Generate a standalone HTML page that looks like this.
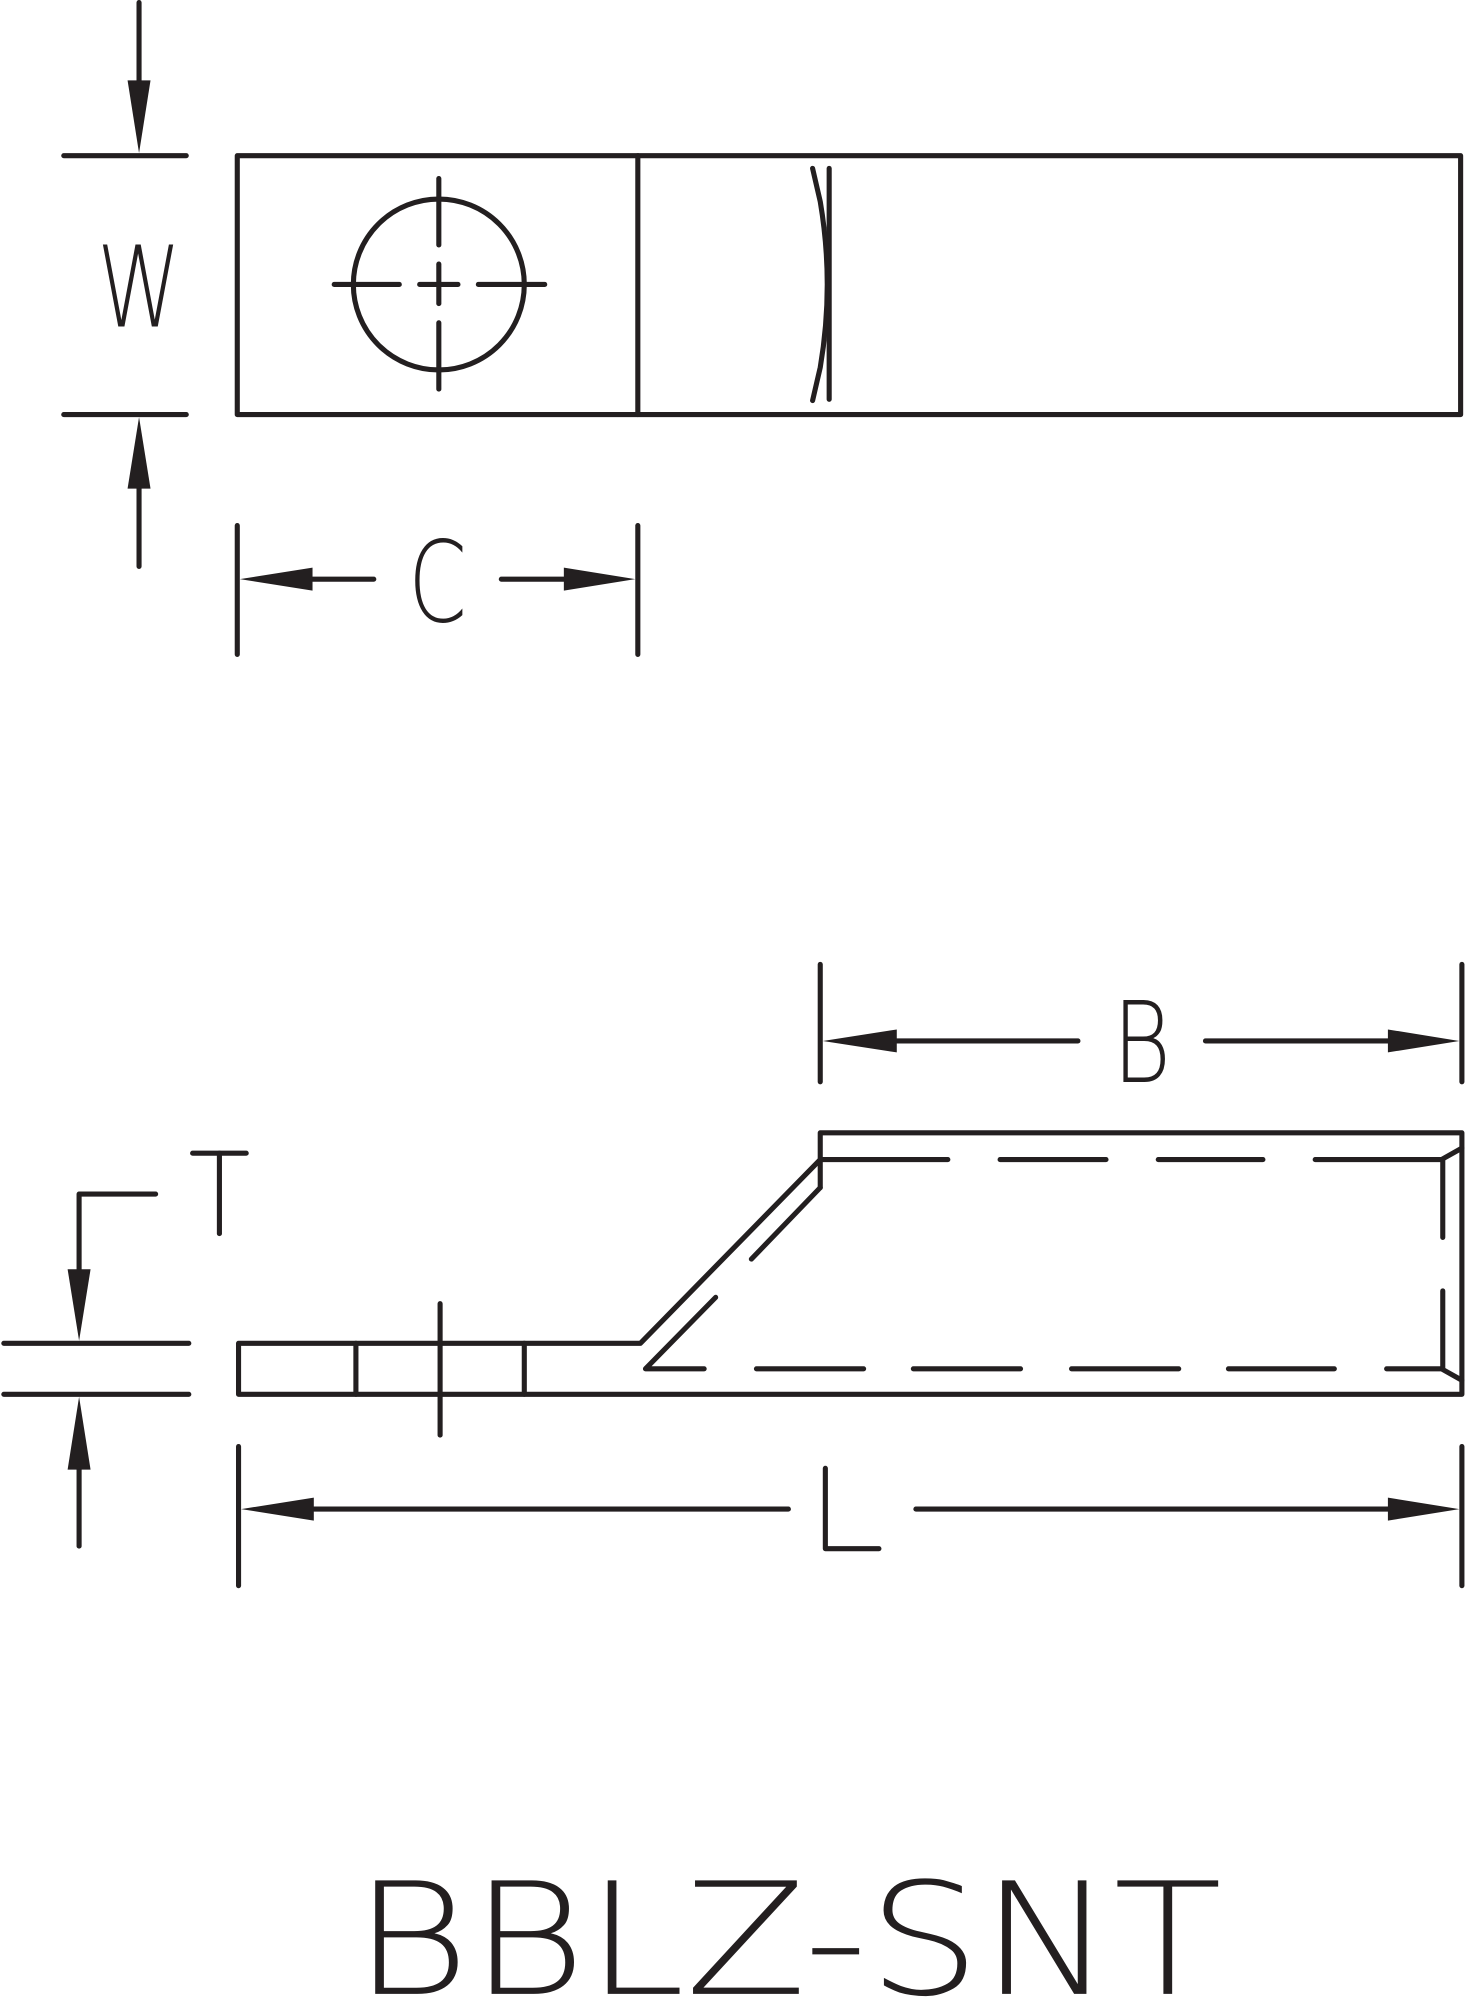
<!DOCTYPE html>
<html><head><meta charset="utf-8"><style>
html,body{margin:0;padding:0;background:#fff;}
svg{display:block;}
text{font-family:"DejaVu Sans","Liberation Sans",sans-serif;font-weight:200;fill:#231f20;}
</style></head><body>
<svg width="1467" height="2000" viewBox="0 0 1150 1567.8" xmlns="http://www.w3.org/2000/svg">
<g stroke="#231f20" stroke-width="4" stroke-linecap="round" stroke-linejoin="round" fill="none">
<rect x="186" y="122" width="959" height="203"/>
<line x1="500" y1="122" x2="500" y2="325"/>
<circle cx="344" cy="223" r="67"/>
<line x1="344" y1="140" x2="344" y2="192"/><line x1="344" y1="207" x2="344" y2="238"/><line x1="344" y1="253" x2="344" y2="305"/>
<line x1="262" y1="223" x2="313" y2="223"/><line x1="329" y1="223" x2="359" y2="223"/><line x1="375" y1="223" x2="427" y2="223"/>
<line x1="650" y1="132" x2="650" y2="313"/>
<path d="M637 132 L643 158 Q654 223 643 288 L637 314"/>
<line x1="109" y1="2" x2="109" y2="63"/>
<line x1="50" y1="122" x2="146" y2="122"/><line x1="50" y1="325" x2="146" y2="325"/>
<line x1="109" y1="383" x2="109" y2="444"/>
<line x1="186" y1="412" x2="186" y2="513"/><line x1="500" y1="412" x2="500" y2="513"/>
<line x1="245" y1="454" x2="293" y2="454"/><line x1="393" y1="454" x2="442" y2="454"/>
<line x1="643" y1="756" x2="643" y2="848"/><line x1="1146" y1="756" x2="1146" y2="848"/>
<line x1="703" y1="816" x2="845" y2="816"/><line x1="945" y1="816" x2="1088" y2="816"/>
<polyline points="643,931 643,888 1146,888 1146,1093 187,1093 187,1053 502,1053 643,909"/>
<line x1="643" y1="931" x2="589" y2="987"/>
<polyline points="561,1017 506,1073 552,1073"/>
<line x1="593" y1="1073" x2="677" y2="1073"/><line x1="716" y1="1073" x2="800" y2="1073"/><line x1="840" y1="1073" x2="924" y2="1073"/><line x1="963" y1="1073" x2="1046" y2="1073"/>
<polyline points="1087,1073 1130,1073 1146,1082"/>
<line x1="643" y1="909" x2="743" y2="909"/><line x1="784" y1="909" x2="867" y2="909"/><line x1="908" y1="909" x2="990" y2="909"/>
<polyline points="1031,909 1130,909 1146,900"/>
<line x1="1131" y1="909" x2="1131" y2="970"/><line x1="1131" y1="1012" x2="1131" y2="1073"/>
<line x1="279" y1="1053" x2="279" y2="1093"/><line x1="411" y1="1053" x2="411" y2="1093"/>
<line x1="345" y1="1022" x2="345" y2="1125"/>
<line x1="3" y1="1053" x2="148" y2="1053"/><line x1="3" y1="1093" x2="148" y2="1093"/>
<polyline points="122,936 62,936 62,995"/>
<line x1="62" y1="1152" x2="62" y2="1212"/>
<line x1="151" y1="904" x2="193" y2="904"/><line x1="172" y1="904" x2="172" y2="967"/>
<line x1="187" y1="1134" x2="187" y2="1243"/><line x1="1146" y1="1134" x2="1146" y2="1243"/>
<line x1="246" y1="1183" x2="618" y2="1183"/><line x1="718" y1="1183" x2="1088" y2="1183"/>
<polyline points="647,1151 647,1214 689,1214"/>
</g>
<g fill="#231f20">
<polygon points="109,120 100,63 118,63"/>
<polygon points="109,327 100,383 118,383"/>
<polygon points="188,454 245,445 245,463"/>
<polygon points="498,454 442,445 442,463"/>
<polygon points="645,816 703,807 703,825"/>
<polygon points="1144,816 1088,807 1088,825"/>
<polygon points="62,1051 53,995 71,995"/>
<polygon points="62,1095 53,1152 71,1152"/>
<polygon points="189,1183 246,1174 246,1192"/>
<polygon points="1144,1183 1088,1174 1088,1192"/>
</g>
<text x="109" y="256" font-size="88" text-anchor="middle" textLength="66" lengthAdjust="spacingAndGlyphs">W</text>
<text x="343" y="487" font-size="88" text-anchor="middle" textLength="46" lengthAdjust="spacingAndGlyphs">C</text>
<text x="895" y="848" font-size="88" text-anchor="middle" textLength="46" lengthAdjust="spacingAndGlyphs">B</text>
<text x="277" y="1563" font-size="122" textLength="681" lengthAdjust="spacingAndGlyphs">BBLZ-SNT</text>
</svg>
</body></html>
